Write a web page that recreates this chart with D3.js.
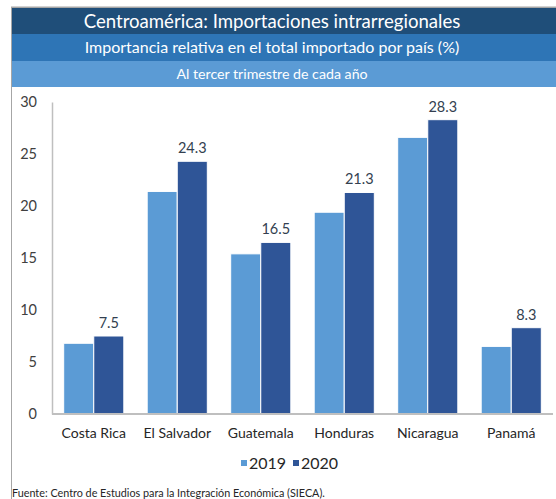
<!DOCTYPE html>
<html><head><meta charset="utf-8">
<script src="https://cdn.jsdelivr.net/npm/d3@7"></script>
<style>body{margin:0;background:#fff;} svg{display:block;}</style>
</head><body>
<svg id="c" width="556" height="499"></svg>
<script>
const categories = ["Costa Rica","El Salvador","Guatemala","Honduras","Nicaragua","Panamá"];
const series2019 = [6.8, 21.4, 15.4, 19.4, 26.6, 6.5];
const series2020 = [7.5, 24.3, 16.5, 21.3, 28.3, 8.3];
const seriesNames = ["2019","2020"];
const yTicks = [0,5,10,15,20,25,30];
const titles = ["Centroamérica: Importaciones intrarregionales","Importancia relativa en el total importado por país (%)","Al tercer trimestre de cada año"];
const source = "Fuente: Centro de Estudios para la Integración Económica (SIECA).";

const colors = ["#5B9BD5","#2F5597"];
const bandColors = ["#1F4E79","#2E75B6","#5B9BD5"];
const font = "Lato, 'Open Sans', sans-serif";

const svg = d3.select("#c");

// frame lines
svg.append("line").attr("x1",11).attr("x2",556).attr("y1",7.5).attr("y2",7.5).attr("stroke","#a6a6a6").attr("stroke-width",2);
svg.append("line").attr("x1",11.5).attr("x2",11.5).attr("y1",7).attr("y2",499).attr("stroke","#a6a6a6").attr("stroke-width",1);

// header bands
const bandY = [8,34,61,87];
const titleSizes = [18.6,16,14.2];
titles.forEach((t,i)=>{
  svg.append("rect").attr("x",12).attr("y",bandY[i]).attr("width",544).attr("height",bandY[i+1]-bandY[i]).attr("fill",bandColors[i]);
  svg.append("text").attr("x",272).attr("y",(bandY[i]+bandY[i+1])/2).attr("dy","0.35em")
    .attr("text-anchor","middle").attr("fill","#fff").attr("font-family",font).attr("font-size",titleSizes[i]).text(t);
});

const x0 = d3.scaleBand().domain(categories).range([52,553]).paddingInner(0.28).paddingOuter(0.14);
const x1 = d3.scaleBand().domain(seriesNames).range([0,x0.bandwidth()]).padding(0);
const y = d3.scaleLinear().domain([0,30]).range([414,102]);

// y axis
const yAxis = svg.append("g").attr("transform","translate(52,0)").call(d3.axisLeft(y).tickValues(yTicks).tickSize(0).tickPadding(15));
yAxis.select(".domain").attr("stroke","#bfbfbf").attr("stroke-width",1.5);
yAxis.selectAll("text").attr("font-family",font).attr("font-size",14.5).attr("fill","#404040");

// bars
const data = categories.map((c,i)=>({c, vals:[series2019[i],series2020[i]]}));
const g = svg.append("g");
data.forEach(d=>{
  d.vals.forEach((v,j)=>{
    g.append("rect").attr("x",x0(d.c)+x1(seriesNames[j])).attr("y",y(v))
      .attr("width",x1.bandwidth()).attr("height",y(0)-y(v))
      .attr("fill",colors[j]).attr("stroke","#fff").attr("stroke-width",1);
  });
  const v = d.vals[1];
  g.append("text").attr("x",x0(d.c)+x1("2020")+x1.bandwidth()/2).attr("y",y(v)-8)
    .attr("text-anchor","middle").attr("font-family",font).attr("font-size",14.5).attr("fill","#333f50").text(v.toFixed(1));
});

// x axis
const xAxis = svg.append("g").attr("transform","translate(0,414)").call(d3.axisBottom(x0).tickSize(0).tickPadding(14));
xAxis.select(".domain").attr("stroke","#bfbfbf").attr("stroke-width",2).attr("d","M52,0H553");
xAxis.selectAll("text").attr("font-family",font).attr("font-size",14).attr("fill","#262626");

// legend
const legX = [241,293];
seriesNames.forEach((s,j)=>{
  svg.append("rect").attr("x",legX[j]).attr("y",460).attr("width",6).attr("height",6).attr("fill",colors[j]);
  svg.append("text").attr("x",legX[j]+8).attr("y",463).attr("dy","0.35em").attr("font-family",font).attr("font-size",16).attr("fill","#262626").text(s);
});

// source
svg.append("text").attr("x",12).attr("y",497).attr("font-family",font).attr("font-size",10.8).attr("fill","#262626").text(source);
</script>
</body></html>
